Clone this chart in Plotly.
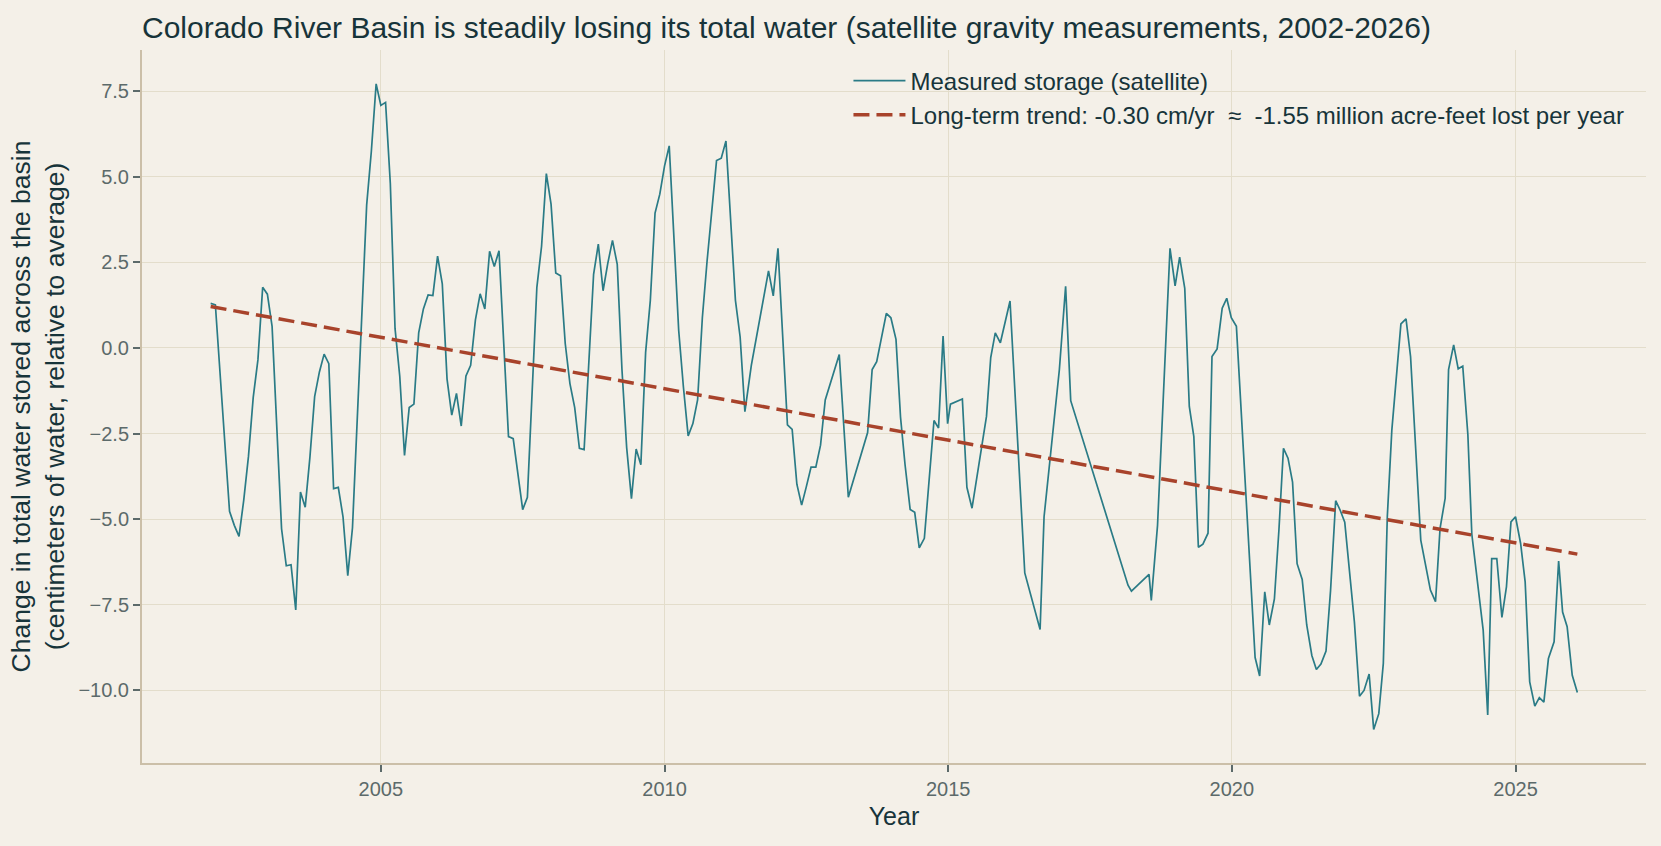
import plotly.graph_objects as go

# Basin-average total water storage anomaly (cm of water).
# Decimal years; gaps (e.g. GRACE -> GRACE-FO 2017/18) are simply missing months.
YEARS = [
    2002.000, 2002.083, 2002.333, 2002.417, 2002.500, 2002.583, 2002.667,
    2002.750, 2002.833, 2002.917, 2003.000, 2003.083, 2003.250, 2003.333,
    2003.417, 2003.500, 2003.583, 2003.667, 2003.750, 2003.833, 2003.917,
    2004.000, 2004.083, 2004.167, 2004.250, 2004.333, 2004.417, 2004.500,
    2004.750, 2004.833, 2004.917, 2005.000, 2005.083, 2005.167, 2005.250,
    2005.333, 2005.417, 2005.500, 2005.583, 2005.667, 2005.750, 2005.833,
    2005.917, 2006.000, 2006.083, 2006.167, 2006.250, 2006.333, 2006.417,
    2006.500, 2006.583, 2006.667, 2006.750, 2006.833, 2006.917, 2007.000,
    2007.083, 2007.250, 2007.333, 2007.500, 2007.583, 2007.750, 2007.833,
    2007.917, 2008.000, 2008.083, 2008.167, 2008.250, 2008.333, 2008.417,
    2008.500, 2008.583, 2008.750, 2008.833, 2008.917, 2009.000, 2009.083,
    2009.167, 2009.250, 2009.333, 2009.417, 2009.500, 2009.583, 2009.667,
    2009.750, 2009.833, 2009.917, 2010.000, 2010.083, 2010.250, 2010.333,
    2010.417, 2010.500, 2010.583, 2010.667, 2010.750, 2010.917, 2011.000,
    2011.083, 2011.167, 2011.250, 2011.333, 2011.417, 2011.530, 2011.660,
    2011.750, 2011.833, 2011.917, 2012.000, 2012.167, 2012.250, 2012.333,
    2012.417, 2012.500, 2012.583, 2012.667, 2012.750, 2012.833, 2013.080,
    2013.240, 2013.580, 2013.660, 2013.740, 2013.910, 2013.990, 2014.080,
    2014.160, 2014.240, 2014.330, 2014.410, 2014.490, 2014.580, 2014.750,
    2014.830, 2014.910, 2014.990, 2015.040, 2015.250, 2015.330, 2015.420,
    2015.675, 2015.750, 2015.830, 2015.920, 2016.090, 2016.350, 2016.620,
    2016.690, 2016.960, 2017.070, 2017.160, 2018.170, 2018.230, 2018.540,
    2018.580, 2018.690, 2018.910, 2019.000, 2019.080, 2019.170, 2019.250,
    2019.330, 2019.410, 2019.490, 2019.580, 2019.650, 2019.740, 2019.830,
    2019.910, 2019.990, 2020.080, 2020.410, 2020.490, 2020.580, 2020.660,
    2020.750, 2020.830, 2020.910, 2020.990, 2021.070, 2021.150, 2021.240,
    2021.320, 2021.410, 2021.490, 2021.570, 2021.660, 2021.740, 2021.830,
    2021.910, 2021.990, 2022.160, 2022.250, 2022.330, 2022.420, 2022.500,
    2022.590, 2022.670, 2022.740, 2022.820, 2022.900, 2022.980, 2023.070,
    2023.150, 2023.330, 2023.410, 2023.500, 2023.590, 2023.670, 2023.760,
    2023.820, 2023.910, 2023.990, 2024.070, 2024.160, 2024.230, 2024.430,
    2024.510, 2024.580, 2024.670, 2024.760, 2024.840, 2024.920, 2025.000,
    2025.090, 2025.170, 2025.250, 2025.340, 2025.420, 2025.500, 2025.580,
    2025.680, 2025.760, 2025.830, 2025.910, 2026.000, 2026.090,
]

STORAGE_CM = [
    1.30, 1.26, -4.77, -5.18, -5.50, -4.45, -3.16,
    -1.45, -0.35, 1.77, 1.57, 0.63, -5.28, -6.36,
    -6.33, -7.65, -4.21, -4.65, -3.19, -1.42, -0.70,
    -0.18, -0.46, -4.11, -4.07, -4.93, -6.65, -5.25,
    4.17, 5.75, 7.71, 7.08, 7.17, 4.80, 0.57,
    -0.82, -3.14, -1.74, -1.64, 0.44, 1.14, 1.55,
    1.53, 2.68, 1.87, -0.91, -1.96, -1.33, -2.28,
    -0.82, -0.51, 0.82, 1.58, 1.14, 2.82, 2.38,
    2.84, -2.59, -2.65, -4.72, -4.36, 1.77, 2.97,
    5.09, 4.20, 2.19, 2.11, 0.13, -1.04, -1.74,
    -2.93, -2.97, 2.15, 3.03, 1.67, 2.47, 3.14,
    2.44, -0.63, -2.91, -4.40, -2.95, -3.41, -0.13,
    1.39, 3.94, 4.49, 5.31, 5.90, 0.51, -1.14,
    -2.57, -2.21, -1.52, 0.88, 2.53, 5.47, 5.54,
    6.04, 3.67, 1.39, 0.32, -1.86, -0.51, 0.63,
    1.52, 2.25, 1.52, 2.91, -2.25, -2.38, -3.98,
    -4.59, -4.05, -3.48, -3.48, -2.84, -1.52, -0.19,
    -4.36, -2.47, -0.63, -0.40, 1.01, 0.88, 0.25,
    -2.02, -3.41, -4.72, -4.80, -5.84, -5.56, -2.12,
    -2.34, 0.35, -2.21, -1.64, -1.49, -4.07, -4.68,
    -2.00, -0.28, 0.44, 0.15, 1.37, -6.57, -8.22,
    -4.93, -0.63, 1.80, -1.54, -6.93, -7.10, -6.61,
    -7.37, -5.18, 2.91, 1.81, 2.65, 1.74, -1.71,
    -2.59, -5.82, -5.73, -5.41, -0.25, -0.03, 1.16,
    1.45, 0.88, 0.63, -9.04, -9.58, -7.12, -8.09,
    -7.33, -5.31, -2.93, -3.22, -3.92, -6.30, -6.76,
    -8.09, -8.98, -9.39, -9.23, -8.85, -7.08, -4.46,
    -4.74, -5.09, -8.00, -10.17, -10.00, -9.52, -11.14,
    -10.68, -9.21, -4.93, -2.40, -0.82, 0.70, 0.85,
    -0.25, -5.61, -6.32, -7.07, -7.41, -5.27, -4.39,
    -0.63, 0.09, -0.61, -0.53, -2.53, -5.44, -8.24,
    -10.72, -6.15, -6.15, -7.87, -6.98, -5.08, -4.93,
    -5.71, -6.83, -9.75, -10.46, -10.21, -10.34, -9.07,
    -8.58, -6.22, -7.71, -8.14, -9.56, -10.06,
]

# end points of the fitted long-term trend line
TREND_YEARS = [2002.0, 2026.09]
TREND_CM = [1.21, -6.02]

X_TICKS = [2005, 2010, 2015, 2020, 2025]
Y_TICKS = [-10.0, -7.5, -5.0, -2.5, 0.0, 2.5, 5.0, 7.5]

TITLE = ("Colorado River Basin is steadily losing its total water "
         "(satellite gravity measurements, 2002-2026)")
MEASURED_NAME = "Measured storage (satellite)"
TREND_NAME = ("Long-term trend: -0.30 cm/yr\u00a0 \u2248\u00a0 "
              "-1.55 million acre-feet lost per year")
Y_TITLE = ("Change in total water stored across the basin<br>"
           "(centimeters of water, relative to average)")

BG = "#F4F0E8"
GRID = "#E3DDCB"
SPINE = "#CBBFA8"
TICK_TEXT = "#5C6A6A"
DARK = "#17343A"
TEAL = "#2A7B86"
RUST = "#A8432B"
FONT = "Liberation Sans, Arial, Helvetica, sans-serif"

# drop the default 8px body margin so the figure fills the window
PAGE_FIX = ("document.body.style.margin='0';"
            "document.body.style.background='" + BG + "';")


def build_figure():
    fig = go.Figure()

    fig.add_trace(go.Scatter(
        x=YEARS, y=STORAGE_CM, mode="lines", name=MEASURED_NAME,
        line=dict(color=TEAL, width=1.7)
    ))
    fig.add_trace(go.Scatter(
        x=TREND_YEARS, y=TREND_CM, mode="lines", name=TREND_NAME,
        line=dict(color=RUST, width=3.5, dash="16px,7px")
    ))

    fig.update_layout(
        width=1661,
        height=846,
        paper_bgcolor=BG,
        plot_bgcolor=BG,
        margin=dict(l=142, r=15, t=50, b=83),
        font=dict(family=FONT, color=DARK),
        title=dict(text=TITLE, x=0, xref="paper", xanchor="left",
                   y=1 - 27 / 846, yref="container", yanchor="middle",
                   font=dict(size=30, color=DARK)),
        legend=dict(x=0.989, xanchor="right", y=0.988, yanchor="top",
                    bgcolor="rgba(0,0,0,0)", font=dict(size=24, color=DARK),
                    itemwidth=52, tracegroupgap=0),
        showlegend=True,
    )

    fig.update_xaxes(
        range=[2000.79, 2027.30], tickvals=X_TICKS,
        ticks="outside", ticklen=7, tickwidth=2, tickcolor=TICK_TEXT,
        tickfont=dict(size=20, color=TICK_TEXT),
        showgrid=True, gridcolor=GRID, gridwidth=1,
        showline=True, linecolor=SPINE, linewidth=2,
        zeroline=False,
        title=dict(text="Year", font=dict(size=25, color=DARK), standoff=8),
    )
    fig.update_yaxes(
        range=[-12.12, 8.70], tickvals=Y_TICKS, tickformat=".1f",
        ticks="outside", ticklen=7, tickwidth=2, tickcolor=TICK_TEXT,
        tickfont=dict(size=20, color=TICK_TEXT),
        showgrid=True, gridcolor=GRID, gridwidth=1,
        showline=True, linecolor=SPINE, linewidth=2,
        zeroline=False,
        title=dict(text=Y_TITLE, font=dict(size=26.5, color=DARK),
                   standoff=6),
    )
    return fig


fig = build_figure()
fig.write_html("out.html", post_script=PAGE_FIX,
               config={"displayModeBar": False})
